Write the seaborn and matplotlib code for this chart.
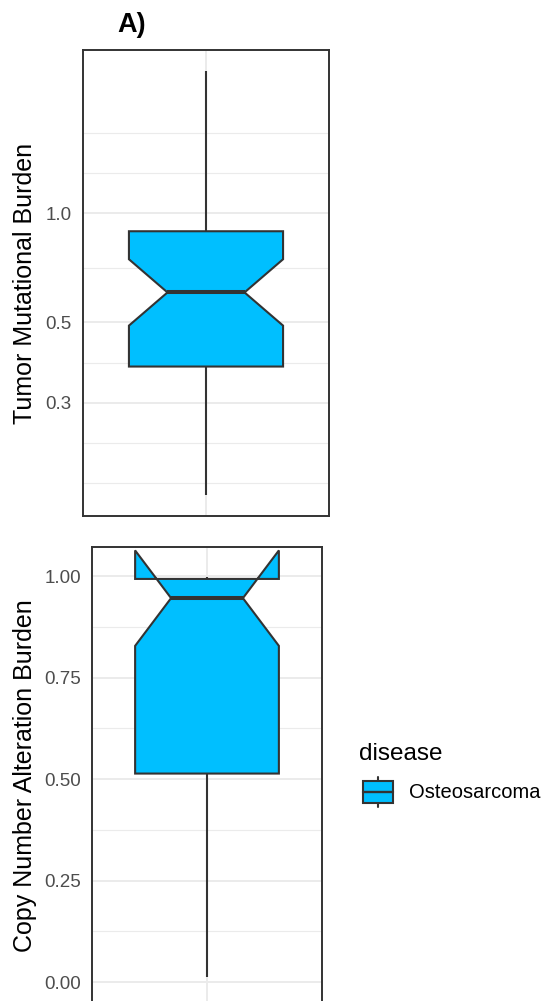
import numpy as np
import pandas as pd
import seaborn as sns
import matplotlib
matplotlib.use("Agg")
import matplotlib.pyplot as plt
from matplotlib.legend_handler import HandlerBase
from matplotlib.patches import Rectangle
from matplotlib.lines import Line2D
from matplotlib.ticker import FixedLocator, NullFormatter

# ---- data -------------------------------------------------------------
disease = "Osteosarcoma"
# five-number summaries: lower whisker, Q1, median, Q3, upper whisker
tmb_summary = [0.1675, 0.378, 0.605, 0.892, 2.47]
cna_summary = [0.0123, 0.5136, 0.9457, 0.993, 0.998]
# samples sitting at each summary value (41 samples per panel)
summary_counts = [1, 10, 10, 19, 1]

tmb_ticks = [0.3, 0.5, 1.0]
tmb_tick_labels = ["0.3", "0.5", "1.0"]
cna_ticks = [0.0, 0.25, 0.50, 0.75, 1.00]
cna_tick_labels = ["0.00", "0.25", "0.50", "0.75", "1.00"]

# ---- style ------------------------------------------------------------
FILL = "#00BFFF"
EDGE = "#333333"
GRID = "#EBEBEB"
TICK_TXT = "#4D4D4D"

sns.set_theme(style="white")
plt.rcParams["font.family"] = ["Liberation Sans", "DejaVu Sans"]
plt.rcParams["text.color"] = "black"

def sample(summary):
    return np.repeat(np.asarray(summary, dtype=float), summary_counts)

tmb_df = pd.DataFrame({"disease": disease, "tmb": sample(tmb_summary)})
cna_df = pd.DataFrame({"disease": disease, "cna": sample(cna_summary)})

W, H = 547, 1001
fig = plt.figure(figsize=(W / 100, H / 100), dpi=100)


def px_axes(left, top, right, bottom):
    return fig.add_axes([left / W, 1 - bottom / H, (right - left) / W, (bottom - top) / H])


ax1 = px_axes(82.7, 50, 329.3, 516)
ax2 = px_axes(92, 547.3, 322, 1004)

box_kw = dict(
    x="disease", hue="disease", palette={disease: FILL}, saturation=1,
    width=0.75, notch=True, whis=1.5, showcaps=False, fliersize=0,
    linecolor=EDGE, linewidth=1.5, legend=False,
    medianprops=dict(linewidth=2.9, color=EDGE, solid_capstyle="butt"),
)

sns.boxplot(data=tmb_df, y="tmb", ax=ax1, log_scale=(False, True), **box_kw)
sns.boxplot(data=cna_df, y="cna", ax=ax2, **box_kw)

# ---- axes: log scale panel ------------------------------------------
lt = np.log10(tmb_ticks)
step = lt[1] - lt[0]
ext = np.concatenate([[lt[0] - step], lt, [lt[-1] + step]])
tmb_minor = 10 ** np.concatenate([[ext[0]], (ext[:-1] + ext[1:]) / 2, [ext[-1]]])

ax1.set_ylim(0.1464, 2.818)
ax1.yaxis.set_major_locator(FixedLocator(tmb_ticks))
ax1.set_yticklabels(tmb_tick_labels)
ax1.yaxis.set_minor_locator(FixedLocator(tmb_minor))
ax1.yaxis.set_minor_formatter(NullFormatter())

# ---- axes: linear panel ---------------------------------------------
cna_minor = (np.array(cna_ticks[:-1]) + np.array(cna_ticks[1:])) / 2
ax2.set_ylim(-0.054, 1.0709)
ax2.yaxis.set_major_locator(FixedLocator(cna_ticks))
ax2.set_yticklabels(cna_tick_labels)
ax2.yaxis.set_minor_locator(FixedLocator(cna_minor))

for ax, label, left, width in [
    (ax1, "Tumor Mutational Burden", 82.7, 246.6),
    (ax2, "Copy Number Alteration Burden", 92, 230),
]:
    ax.set_xlim(-0.6, 0.6)
    ax.set_xlabel("")
    ax.set_axisbelow(True)
    ax.grid(which="major", color=GRID, linewidth=1.4)
    ax.grid(which="minor", axis="y", color=GRID, linewidth=0.8)
    ax.tick_params(axis="x", length=0, labelbottom=False)
    ax.tick_params(axis="y", which="major", length=5, width=1.3, color=EDGE,
                   labelsize=13.5, labelcolor=TICK_TXT, pad=3)
    ax.tick_params(axis="y", which="minor", length=0)
    for sp in ax.spines.values():
        sp.set_visible(True)
        sp.set_color(EDGE)
        sp.set_linewidth(1.4)
    ax.set_ylabel(label, fontsize=18, color="black")
    ax.yaxis.set_label_coords((37 - left) / width, 0.5)

fig.text(117 / W, 1 - 32 / H, "A)", fontsize=19.5, fontweight="bold",
         ha="left", va="baseline", color="black")


# ---- legend: boxplot key ---------------------------------------------
class BoxKey:
    pass


KEY_INDENT = 3  # px gap between the legend title edge and the key


class BoxKeyHandler(HandlerBase):
    def create_artists(self, legend, orig_handle, xdescent, ydescent,
                       width, height, fontsize, trans):
        x0, y0 = -xdescent + KEY_INDENT, -ydescent
        w = width - KEY_INDENT
        cx, cy = x0 + w / 2, y0 + height / 2
        bh = height * 0.76
        whisk = Line2D([cx, cx], [y0, y0 + height], color=EDGE, linewidth=1.5,
                       transform=trans)
        rect = Rectangle((x0, cy - bh / 2), w, bh, facecolor=FILL,
                         edgecolor=EDGE, linewidth=1.5, transform=trans)
        med = Line2D([x0, x0 + w], [cy, cy], color=EDGE, linewidth=1.7,
                     transform=trans)
        return [whisk, rect, med]


leg = fig.legend(
    [BoxKey()], [disease], title="disease",
    handler_map={BoxKey: BoxKeyHandler()},
    loc="upper left", bbox_to_anchor=(359 / W, 1 - 743 / H),
    frameon=False, fontsize=14.5, title_fontsize=17.5, alignment="left",
    handlelength=34 / 20.14, handleheight=1.84, handletextpad=0.78,
    labelspacing=0.62, borderpad=0, borderaxespad=0,
)
for t in leg.get_texts():
    t.set_color("black")
leg.get_title().set_color("black")

fig.savefig("out.png", dpi=100)
